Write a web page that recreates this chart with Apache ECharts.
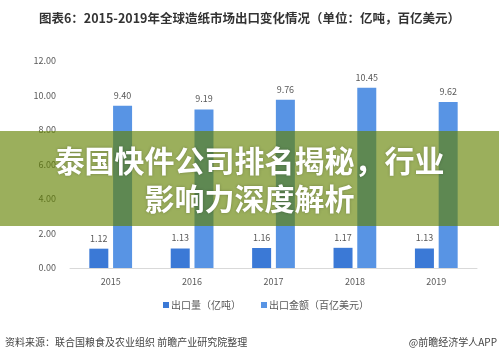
<!DOCTYPE html>
<html><head><meta charset="utf-8">
<script src="https://cdn.jsdelivr.net/npm/echarts@6/dist/echarts.min.js"></script>
<style>html,body{margin:0;padding:0;background:#fff}#c{width:499px;height:359px}</style>
</head><body><div id="c"></div>
<script>
var categories = ['2015','2016','2017','2018','2019'];
var volume = [1.12, 1.13, 1.16, 1.17, 1.13];
var value = [9.40, 9.19, 9.76, 10.45, 9.62];
var seriesNames = ['出口量（亿吨）', '出口金额（百亿美元）'];
var yTicks = [0, 2, 4, 6, 8, 10, 12];
var titleText = '图表6：2015-2019年全球造纸市场出口变化情况（单位：亿吨，百亿美元）';
var sourceText = '资料来源：联合国粮食及农业组织 前瞻产业研究院整理';
var brandText = '@前瞻经济学人APP';
var bannerLines = ['泰国快件公司排名揭秘，行业', '影响力深度解析'];

var font = '"Noto Sans CJK SC", "Noto Sans", sans-serif';
var chart = echarts.init(document.getElementById('c'));
chart.setOption({
  animation: false,
  backgroundColor: '#ffffff',
  textStyle: {fontFamily: font},
  title: {
    text: titleText, left: 'center', top: 7,
    textStyle: {fontSize: 12.5, fontWeight: 'bold', color: '#333', fontFamily: font}
  },
  legend: {
    data: seriesNames, left: 158, top: 295, itemWidth: 6, itemHeight: 6, itemGap: 20,
    icon: 'rect',
    textStyle: {fontSize: 10, color: '#595959', padding: [0,0,0,-3]}
  },
  grid: {left: 70, right: 22, top: 61, bottom: 91},
  xAxis: {
    type: 'category', data: categories,
    axisLine: {lineStyle: {color: '#d9d9d9'}},
    axisTick: {show: false},
    axisLabel: {color: '#595959', fontSize: 9, margin: 9}
  },
  yAxis: {
    type: 'value', min: yTicks[0], max: yTicks[yTicks.length-1], interval: 2,
    splitLine: {show: false},
    axisLine: {show: false}, axisTick: {show: false},
    axisLabel: {color: '#595959', fontSize: 9, margin: 14, formatter: function(v){return v.toFixed(2);}}
  },
  series: [
    {name: seriesNames[0], type: 'bar', data: volume, barWidth: 19, barGap: '25%',
     itemStyle: {color: '#3b79d6'},
     label: {show: true, position: 'top', distance: 6, color: '#595959', fontSize: 9,
       formatter: function(p){return p.value.toFixed(2);}}},
    {name: seriesNames[1], type: 'bar', data: value, barWidth: 19,
     itemStyle: {color: '#5894e4'},
     label: {show: true, position: 'top', distance: 6, color: '#595959', fontSize: 9,
       formatter: function(p){return p.value.toFixed(2);}}}
  ],
  graphic: [
    {type: 'rect', left: 0, top: 131, z: 100, shape: {width: 499, height: 95},
     style: {fill: 'rgba(99,130,0,0.64)'}},
    {type: 'text', left: 'center', top: 146, z: 101,
     style: {text: bannerLines[0], fill: '#fff', font: 'bold 30px ' + font,
       textShadowColor: 'rgba(0,0,0,0.25)', textShadowBlur: 3}},
    {type: 'text', left: 'center', top: 184, z: 101,
     style: {text: bannerLines[1], fill: '#fff', font: 'bold 30px ' + font,
       textShadowColor: 'rgba(0,0,0,0.25)', textShadowBlur: 3}},
    {type: 'text', left: 5, top: 337, z: 50,
     style: {text: sourceText, fill: '#444', font: '10px ' + font}},
    {type: 'text', right: 2, top: 337, z: 50,
     style: {text: brandText, fill: '#444', font: '10px ' + font}}
  ]
});
</script></body></html>
